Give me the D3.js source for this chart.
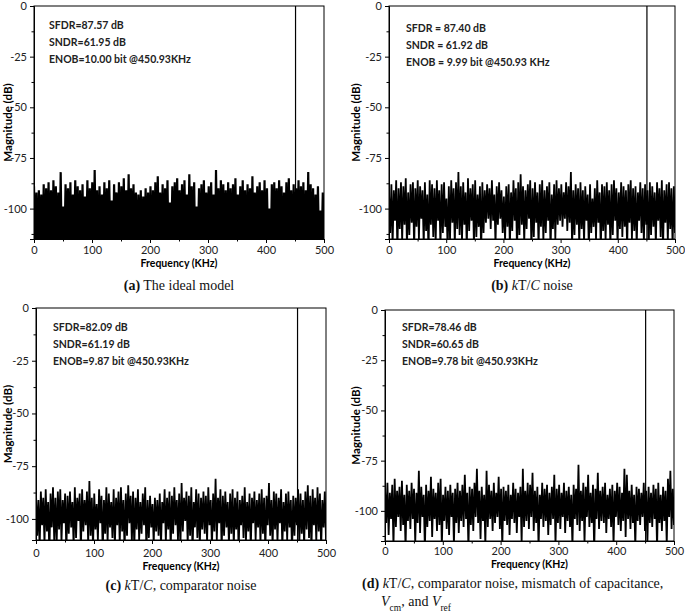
<!DOCTYPE html>
<html>
<head>
<meta charset="utf-8">
<script src="https://cdn.jsdelivr.net/npm/d3@7"></script>
<style>
  body { margin: 0; background: #fff; }
  svg text { font-family: Lato, "Open Sans", sans-serif; }
</style>
</head>
<body>
<div id="chart"></div>
<script>
// --- data ---
const signalFreq = 450.93;   // KHz, the tone
const signalDb = 0;
const xTicks = [0, 100, 200, 300, 400, 500];
const xMinor = [50, 150, 250, 350, 450];
const yTicks = [0, -25, -50, -75, -100];
const yMinor = [-12.5, -37.5, -62.5, -87.5, -112.5];

// top of each noise spike (dB), ~4.2 KHz apart
const peaksA = [-89,-92,-91,-93,-88,-90,-87,-91,-86,-89,
  -92,-82,-99,-88,-90,-87,-93,-86,-89,-91,
  -88,-94,-86,-90,-87,-81,-91,-89,-93,-87,
  -90,-86,-96,-88,-92,-87,-89,-85,-91,-83,
  -90,-88,-92,-93,-91,-94,-90,-92,-89,-91,
  -87,-84,-92,-88,-90,-86,-97,-89,-87,-85,
  -91,-88,-86,-93,-83,-89,-87,-99,-90,-88,
  -86,-92,-89,-87,-93,-81,-90,-86,-88,-91,
  -87,-90,-88,-85,-93,-89,-86,-91,-88,-90,
  -84,-92,-89,-87,-91,-86,-90,-100,-88,-87,
  -90,-86,-89,-92,-87,-85,-91,-88,-90,-86,
  -89,-87,-91,-82,-88,-90,-93,-89,-101,-92];
// bottom of each spike (dB), all under the axis floor in (a)
const troughsA = [-122,-127,-119,-125,-131,-120,-124,-128,-118,-126,
  -121,-129,-123,-117,-126,-130,-119,-124,-122,-128,
  -125,-118,-127,-121,-132,-120,-126,-123,-119,-129,
  -124,-121,-128,-118,-125,-130,-122,-127,-120,-126,
  -119,-124,-131,-122,-127,-118,-125,-121,-129,-123,
  -126,-120,-124,-128,-119,-125,-122,-130,-121,-127,
  -123,-129,-118,-126,-121,-124,-131,-120,-125,-128,
  -122,-119,-127,-123,-130,-121,-126,-118,-124,-129,
  -120,-125,-122,-128,-119,-127,-123,-131,-121,-126,
  -128,-121,-125,-119,-124,-130,-122,-127,-120,-123,
  -126,-118,-129,-122,-125,-121,-128,-124,-119,-127,
  -123,-130,-120,-126,-122,-128,-119,-125,-121,-124];

const peaksB = [-92,-88,-91,-86,-90,-87,-89,-85,-92,-88,
  -87,-90,-86,-89,-91,-87,-93,-86,-88,-90,
  -86,-91,-88,-87,-95,-89,-86,-90,-87,-82,
  -89,-87,-92,-85,-90,-88,-86,-93,-89,-87,
  -91,-88,-90,-86,-93,-89,-87,-91,-94,-89,
  -88,-92,-86,-90,-87,-83,-89,-91,-88,-86,
  -90,-87,-92,-88,-86,-91,-89,-87,-93,-88,
  -86,-90,-88,-92,-87,-89,-82,-91,-88,-90,
  -87,-91,-89,-93,-88,-95,-90,-86,-92,-88,
  -89,-87,-91,-88,-86,-90,-92,-87,-89,-91,
  -88,-86,-90,-89,-92,-87,-90,-88,-91,-87,
  -89,-92,-87,-90,-86,-91,-88,-87,-90,-89];
const troughsB = [-112,-118,-106,-121,-110,-116,-108,-119,-113,-107,
  -120,-109,-115,-105,-118,-111,-122,-108,-114,-117,
  -106,-119,-112,-109,-121,-115,-107,-118,-110,-113,
  -116,-108,-120,-111,-106,-119,-114,-109,-122,-112,
  -107,-105,-110,-106,-118,-108,-105,-112,-116,-109,
  -119,-111,-106,-121,-113,-108,-117,-110,-105,-120,
  -114,-107,-119,-109,-116,-112,-106,-121,-110,-115,
  -108,-106,-109,-105,-111,-107,-119,-113,-108,-118,
  -110,-117,-106,-120,-112,-109,-115,-107,-121,-111,
  -116,-108,-119,-113,-106,-118,-110,-114,-109,-120,
  -107,-115,-111,-119,-106,-112,-117,-108,-121,-113,
  -109,-118,-106,-114,-120,-107,-116,-110,-119,-112];

const peaksC = [-88,-91,-87,-90,-86,-92,-88,-85,-90,-87,
  -86,-91,-88,-89,-87,-92,-85,-90,-88,-86,
  -91,-87,-82,-90,-88,-93,-86,-89,-91,-85,
  -88,-92,-86,-90,-87,-85,-91,-88,-84,-89,
  -87,-90,-86,-92,-88,-85,-91,-89,-93,-90,
  -91,-88,-92,-86,-90,-87,-89,-85,-91,-88,
  -83,-90,-87,-89,-85,-92,-86,-88,-90,-87,
  -89,-85,-91,-88,-81,-90,-86,-89,-87,-92,
  -88,-86,-90,-87,-91,-89,-85,-92,-88,-90,
  -87,-91,-88,-86,-90,-89,-83,-91,-87,-88,
  -90,-86,-92,-88,-87,-91,-89,-90,-86,-88,
  -91,-87,-84,-89,-86,-90,-85,-88,-91,-87];
const troughsC = [-108,-114,-103,-112,-106,-117,-104,-110,-113,-105,
  -111,-102,-116,-107,-104,-113,-109,-101,-115,-106,
  -103,-112,-108,-114,-105,-110,-102,-116,-107,-111,
  -104,-109,-113,-103,-112,-106,-115,-108,-102,-111,
  -114,-105,-110,-107,-103,-116,-109,-104,-112,-106,
  -108,-113,-102,-111,-105,-115,-107,-103,-110,-114,
  -106,-101,-112,-108,-116,-104,-109,-113,-105,-107,
  -111,-103,-114,-106,-110,-102,-115,-108,-104,-112,
  -107,-113,-105,-116,-103,-109,-111,-106,-114,-102,
  -110,-104,-112,-107,-115,-103,-108,-113,-105,-111,
  -102,-114,-106,-110,-104,-116,-108,-103,-112,-107,
  -113,-105,-109,-115,-103,-111,-106,-114,-104,-110];

const peaksD = [-89,-86,-91,-87,-84,-90,-88,-85,-92,-87,
  -90,-86,-89,-91,-80,-88,-92,-87,-90,-83,
  -89,-91,-86,-84,-92,-88,-90,-87,-91,-89,
  -86,-90,-87,-82,-91,-88,-89,-86,-79,-90,
  -88,-92,-80,-87,-90,-86,-91,-83,-89,-88,
  -90,-87,-92,-86,-89,-91,-88,-79,-90,-86,
  -87,-81,-90,-88,-92,-86,-89,-87,-91,-88,
  -82,-89,-87,-91,-86,-90,-88,-92,-87,-89,
  -77,-90,-86,-88,-82,-91,-87,-89,-81,-90,
  -88,-86,-92,-89,-87,-90,-86,-88,-91,-79,
  -82,-90,-87,-92,-88,-89,-91,-86,-90,-88,
  -91,-87,-89,-86,-92,-88,-90,-84,-80,-89];
const troughsD = [-106,-112,-104,-118,-108,-103,-110,-107,-119,-105,
  -109,-104,-116,-106,-111,-103,-120,-108,-105,-113,
  -104,-110,-107,-118,-105,-109,-112,-103,-117,-106,
  -111,-105,-108,-104,-119,-107,-110,-103,-106,-114,
  -105,-117,-108,-104,-110,-106,-103,-109,-118,-105,
  -107,-112,-104,-106,-111,-103,-116,-108,-105,-109,
  -103,-110,-106,-119,-104,-108,-105,-112,-107,-104,
  -117,-106,-109,-103,-111,-105,-108,-118,-104,-107,
  -110,-105,-116,-103,-108,-106,-120,-104,-109,-105,
  -106,-111,-104,-108,-117,-103,-107,-110,-105,-113,
  -104,-109,-106,-118,-105,-107,-103,-110,-116,-106,
  -108,-104,-119,-106,-110,-105,-117,-103,-109,-107];

const notesA = ["SFDR=87.57 dB", "SNDR=61.95 dB", "ENOB=10.00 bit @450.93KHz"];
const notesB = ["SFDR = 87.40 dB", "SNDR = 61.92 dB", "ENOB = 9.99 bit @450.93 KHz"];
const notesC = ["SFDR=82.09 dB", "SNDR=61.19 dB", "ENOB=9.87 bit @450.93KHz"];
const notesD = ["SFDR=78.46 dB", "SNDR=60.65 dB", "ENOB=9.78 bit @450.93KHz"];

// --- layout ---
const W = 685, H = 613;
const svg = d3.select("#chart").append("svg")
  .attr("width", W).attr("height", H);

const panels = [
  {id: "a", peaks: peaksA, troughs: troughsA, notes: notesA, yMin: -115, sw: 2.2,
   x0: 34, x1: 324, y0: 6, y1: 239, noteX: 49, noteY: 29, ylabX: 8,
   tickDy: 15, labDy: 28},
  {id: "b", peaks: peaksB, troughs: troughsB, notes: notesB, yMin: -115, sw: 1.8,
   x0: 389, x1: 675, y0: 6, y1: 239, noteX: 406, noteY: 32, ylabX: 356,
   tickDy: 15, labDy: 28},
  {id: "c", peaks: peaksC, troughs: troughsC, notes: notesC, yMin: -110, sw: 1.8,
   x0: 36, x1: 326, y0: 308, y1: 540, noteX: 53, noteY: 331, ylabX: 8,
   tickDy: 17, labDy: 30},
  {id: "d", peaks: peaksD, troughs: troughsD, notes: notesD, yMin: -115, sw: 1.8,
   x0: 385, x1: 674, y0: 310, y1: 541, noteX: 402, noteY: 331, ylabX: 356,
   tickDy: 14, labDy: 27}
];

// interleave spike tops and bottoms into one spectrum trace
function buildSeries(peaks, troughs) {
  const n = peaks.length * 2;
  const step = 500 / (n - 1);
  const pts = [];
  peaks.forEach((p, i) => {
    pts.push({f: 2 * i * step, db: p});
    pts.push({f: (2 * i + 1) * step, db: troughs[i]});
  });
  return pts;
}

panels.forEach(p => {
  const g = svg.append("g");
  const x = d3.scaleLinear().domain([0, 500]).range([p.x0, p.x1]);
  const y = d3.scaleLinear().domain([p.yMin, 0]).range([p.y1, p.y0]);

  // clip for the spectrum
  svg.append("clipPath").attr("id", "clip-" + p.id)
    .append("rect")
      .attr("x", p.x0).attr("y", p.y0)
      .attr("width", p.x1 - p.x0).attr("height", p.y1 - p.y0);

  const line = d3.line().x(d => x(d.f)).y(d => y(d.db));
  g.append("path")
    .datum(buildSeries(p.peaks, p.troughs))
    .attr("clip-path", `url(#clip-${p.id})`)
    .attr("d", line)
    .attr("fill", "none")
    .attr("stroke", "#000")
    .attr("stroke-width", p.sw);

  // the tone
  g.append("line")
    .attr("x1", x(signalFreq)).attr("x2", x(signalFreq))
    .attr("y1", y(signalDb)).attr("y2", p.y1)
    .attr("stroke", "#000").attr("stroke-width", 1.2);

  // frame
  g.append("rect")
    .attr("x", p.x0).attr("y", p.y0)
    .attr("width", p.x1 - p.x0).attr("height", p.y1 - p.y0)
    .attr("fill", "none").attr("stroke", "#000").attr("stroke-width", 1);

  // axes
  const xAxis = g.append("g").attr("transform", `translate(0,${p.y1})`)
    .call(d3.axisBottom(x).tickValues(xTicks).tickSize(4).tickFormat(d => String(d)));
  g.append("g").attr("transform", `translate(0,${p.y1})`)
    .call(d3.axisBottom(x).tickValues(xMinor).tickSize(2.5).tickFormat(""))
    .select(".domain").remove();
  const yAxis = g.append("g").attr("transform", `translate(${p.x0},0)`)
    .call(d3.axisLeft(y).tickValues(yTicks).tickSize(4).tickFormat(d => String(d)));
  g.append("g").attr("transform", `translate(${p.x0},0)`)
    .call(d3.axisLeft(y).tickValues(yMinor.filter(v => v >= p.yMin)).tickSize(2.5).tickFormat(""))
    .select(".domain").remove();

  xAxis.selectAll("text")
    .attr("y", p.tickDy - 4)
    .attr("dy", "0.35em");
  [xAxis, yAxis].forEach(a => {
    a.selectAll("text")
      .style("font-family", "Lato, sans-serif")
      .style("font-size", "11px").attr("fill", "#222");
    a.select(".domain").attr("stroke", "#000");
  });
  g.selectAll(".tick line").attr("stroke", "#000");

  // axis titles
  g.append("text")
    .attr("x", (p.x0 + p.x1) / 2).attr("y", p.y1 + p.labDy)
    .attr("text-anchor", "middle")
    .style("font-size", "10.5px").style("font-weight", "bold")
    .text("Frequency (KHz)");
  g.append("text")
    .attr("transform", `translate(${p.ylabX},${(p.y0 + p.y1) / 2}) rotate(-90)`)
    .attr("text-anchor", "middle").attr("dy", "0.35em")
    .style("font-size", "11.5px").style("font-weight", "bold")
    .text("Magnitude (dB)");

  // annotations
  g.selectAll("text.note").data(p.notes).join("text")
    .attr("class", "note")
    .attr("x", p.noteX).attr("y", (d, i) => p.noteY + i * 17)
    .style("font-size", "10.5px").style("font-weight", "bold")
    .attr("fill", "#222")
    .text(d => d);
});

// captions
function caption(xc, yc, parts, anchor) {
  const t = svg.append("text")
    .attr("x", xc).attr("y", yc)
    .attr("text-anchor", anchor || "middle")
    .style("font-family", "'Liberation Serif', serif")
    .style("font-size", "14px").attr("fill", "#111");
  parts.forEach(pt => {
    const s = t.append("tspan").text(pt.t);
    if (pt.b) s.style("font-weight", "bold");
    if (pt.i) s.style("font-style", "italic");
    if (pt.sub) s.attr("baseline-shift", "sub").style("font-size", "9.5px");
  });
}
const kTC = [{t: "k", i: true}, {t: "T/"}, {t: "C", i: true}];
caption(179, 290, [{t: "(a)", b: true}, {t: " The ideal model"}]);
caption(532, 290, [{t: "(b)", b: true}, {t: " "}, ...kTC, {t: " noise"}]);
caption(181, 590, [{t: "(c)", b: true}, {t: " "}, ...kTC, {t: ", comparator noise"}]);
caption(362, 588, [{t: "(d)", b: true}, {t: " "}, ...kTC,
  {t: ", comparator noise, mismatch of capacitance,"}], "start");
caption(381, 606, [{t: "V", i: true}, {t: "cm", sub: true}, {t: ", and "},
  {t: "V", i: true}, {t: "ref", sub: true}], "start");
</script>
</body>
</html>
